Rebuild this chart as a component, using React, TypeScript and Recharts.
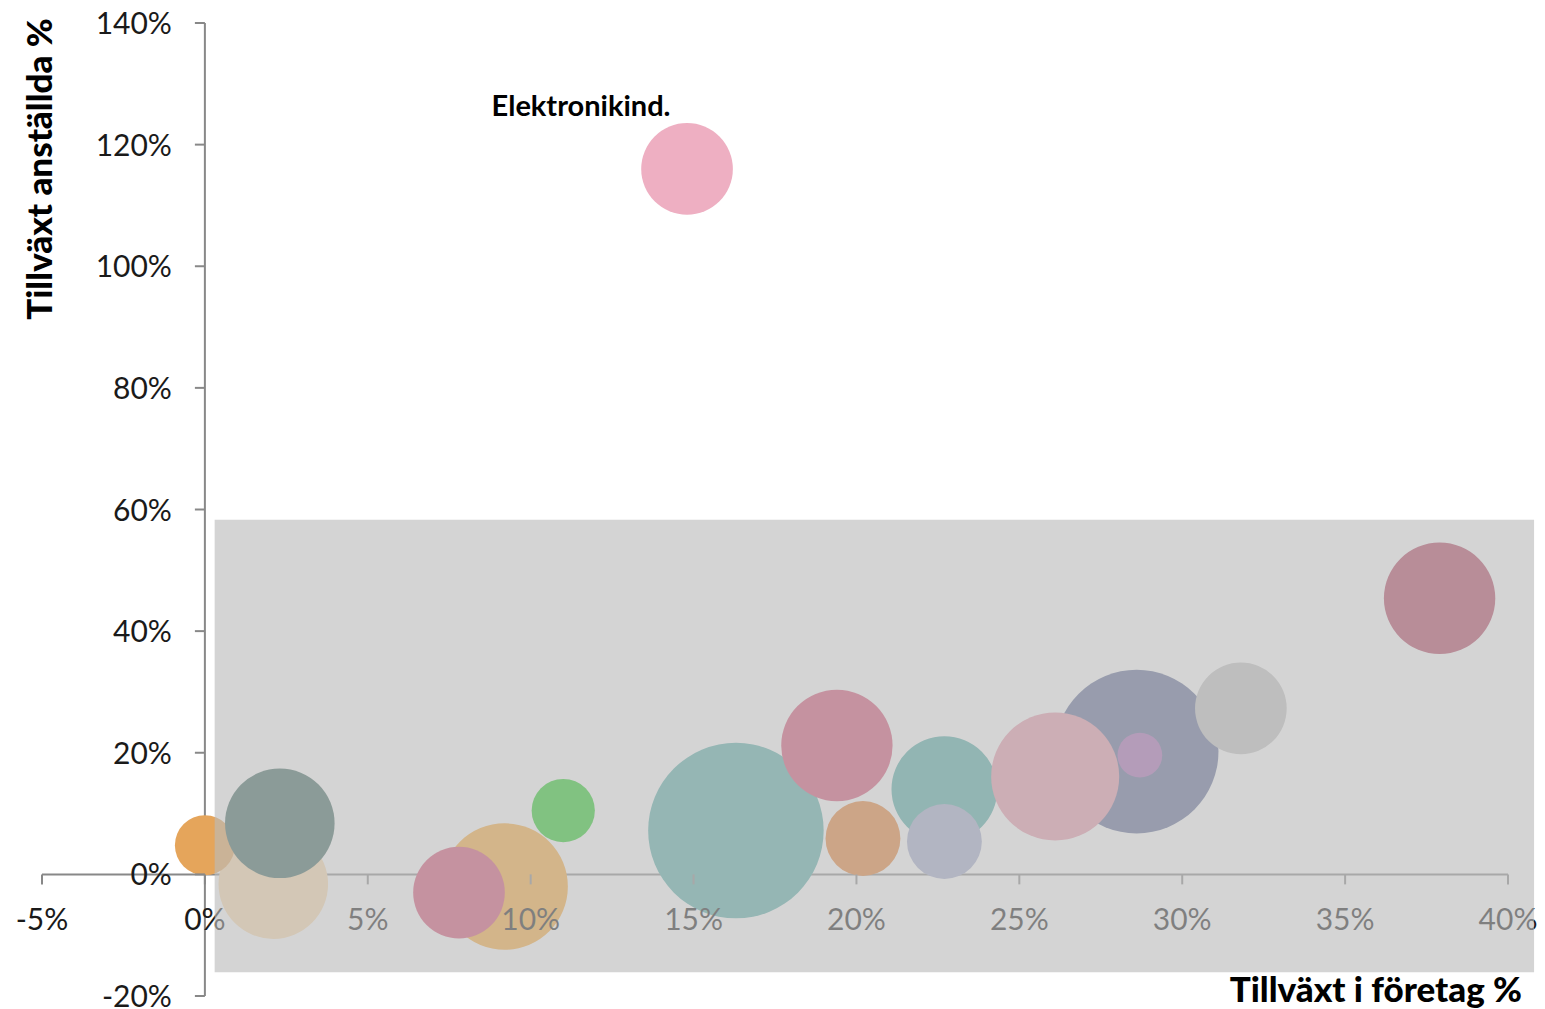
import React from "react";
import {
  ScatterChart,
  Scatter,
  XAxis,
  YAxis,
  ZAxis,
  Cell,
  ReferenceArea,
  ReferenceLine,
  LabelList,
} from "recharts";

// bubbles in drawing order (later ones sit on top)
const branchLabels = ["", "", "", "", "", "", "Elektronikind.", "", "", "", "", "", "", "", "", "", ""];
const companyGrowth = [2.1, 0.0, 2.3, 9.2, 7.8, 11.0, 14.8, 16.3, 19.4, 20.2, 22.7, 22.7, 28.6, 26.1, 28.7, 31.8, 37.9];
const employeeGrowth = [-1.6, 4.8, 8.4, -2.0, -3.0, 10.5, 116.0, 7.2, 21.2, 5.9, 14.0, 5.4, 20.2, 16.1, 19.6, 27.3, 45.4];
const bubbleSize = [30, 9, 30, 40, 21, 10, 21, 77, 31, 14, 28, 14, 67, 41, 5, 21, 31];
const bubbleColors = [
  "#FBDBAD", "#E5A55B", "#3B645C", "#FBAA36", "#D64E72", "#20CD20", "#EEAFC2", "#54ADA8", "#D64E72",
  "#E87F2E", "#4EAAA5", "#A2AACD", "#5C6995", "#E897AA", "#A869B5", "#C3C3C3", "#B23E5C",
];

const xTicks = [-5, 0, 5, 10, 15, 20, 25, 30, 35, 40];
const yTicks = [-20, 0, 20, 40, 60, 80, 100, 120, 140];

const data = companyGrowth.map((x, i) => ({
  x,
  y: employeeGrowth[i],
  z: bubbleSize[i],
  name: branchLabels[i],
}));

const W = 1545;
const H = 1009;
const margin = { top: 23, right: 37, bottom: 12, left: 41 };
const axisThickness = 1;
const plotW = W - margin.left - axisThickness - margin.right;
const plotH = H - margin.top - margin.bottom - axisThickness;
const plotLeft = margin.left + axisThickness;
// where the axes cross (x = 0, y = 0)
const x0 = plotLeft + (plotW * 5) / 45;
const y0 = margin.top + (plotH * 140) / 160;

const tickFont = { fontFamily: "Lato, sans-serif", fontSize: 30, fontWeight: 400 };
const axisGrey = "#888";

const XTick = ({ x, payload }: any) => (
  <g>
    <line x1={x} x2={x} y1={y0} y2={y0 + 10} stroke={axisGrey} strokeWidth={2} />
    <text x={x} y={y0 + 44} textAnchor="middle" dominantBaseline="central" fill="#1a1a1a" style={tickFont}>
      {payload.value}%
    </text>
  </g>
);

const YTick = ({ y, payload }: any) => (
  <g>
    <line x1={x0 - 10} x2={x0} y1={y} y2={y} stroke={axisGrey} strokeWidth={2} />
    <text x={x0 - 33} y={y - 1} textAnchor="end" dominantBaseline="central" fill="#1a1a1a" style={tickFont}>
      {payload.value}%
    </text>
  </g>
);

const BubbleLabel = (props: any) => {
  const { x, y, width, height, value } = props;
  if (!value) return null;
  const cx = x + width / 2;
  const cy = y + height / 2;
  return (
    <text
      x={cx - 106}
      y={cy - 64}
      textAnchor="middle"
      dominantBaseline="central"
      fill="#000"
      style={{ fontFamily: "Lato, sans-serif", fontSize: 29, fontWeight: 700 }}
    >
      {value}
    </text>
  );
};

const titleStyle: React.CSSProperties = {
  position: "absolute",
  fontFamily: "Lato, sans-serif",
  fontWeight: 900,
  fontSize: 35,
  lineHeight: "35px",
  whiteSpace: "nowrap",
  color: "#000",
};

export default function App() {
  return (
    <div style={{ position: "absolute", left: 0, top: 0, width: W, height: H, background: "#fff" }}>
      <ScatterChart width={W} height={H} margin={margin}>
        <XAxis
          type="number"
          dataKey="x"
          domain={[-5, 40]}
          ticks={xTicks}
          interval={0}
          height={axisThickness}
          axisLine={false}
          tickLine={false}
          tick={<XTick />}
        />
        <YAxis
          type="number"
          dataKey="y"
          domain={[-20, 140]}
          ticks={yTicks}
          interval={0}
          width={axisThickness}
          axisLine={false}
          tickLine={false}
          tick={<YTick />}
        />
        <ZAxis type="number" dataKey="z" domain={[0, 80]} range={[0, Math.PI * 100 * 80]} />
        <ReferenceLine x={0} stroke={axisGrey} strokeWidth={2} />
        <ReferenceLine y={0} stroke={axisGrey} strokeWidth={2} />
        <Scatter data={data} isAnimationActive={false}>
          {data.map((d, i) => (
            <Cell key={`b-${i}`} fill={bubbleColors[i]} />
          ))}
          <LabelList dataKey="name" content={<BubbleLabel />} />
        </Scatter>
        <ReferenceArea
          x1={0.3}
          x2={40.8}
          y1={-16.1}
          y2={58.3}
          fill="#bbbbbb"
          fillOpacity={0.63}
          stroke="none"
          ifOverflow="visible"
          zIndex={3000}
        />
      </ScatterChart>
      <div
        style={{
          ...titleStyle,
          left: 38,
          top: 169,
          transform: "translate(-50%, -50%) rotate(-90deg)",
        }}
      >
        Tillväxt anställda %
      </div>
      <div style={{ ...titleStyle, right: 23, top: 971 }}>Tillväxt i företag %</div>
    </div>
  );
}
